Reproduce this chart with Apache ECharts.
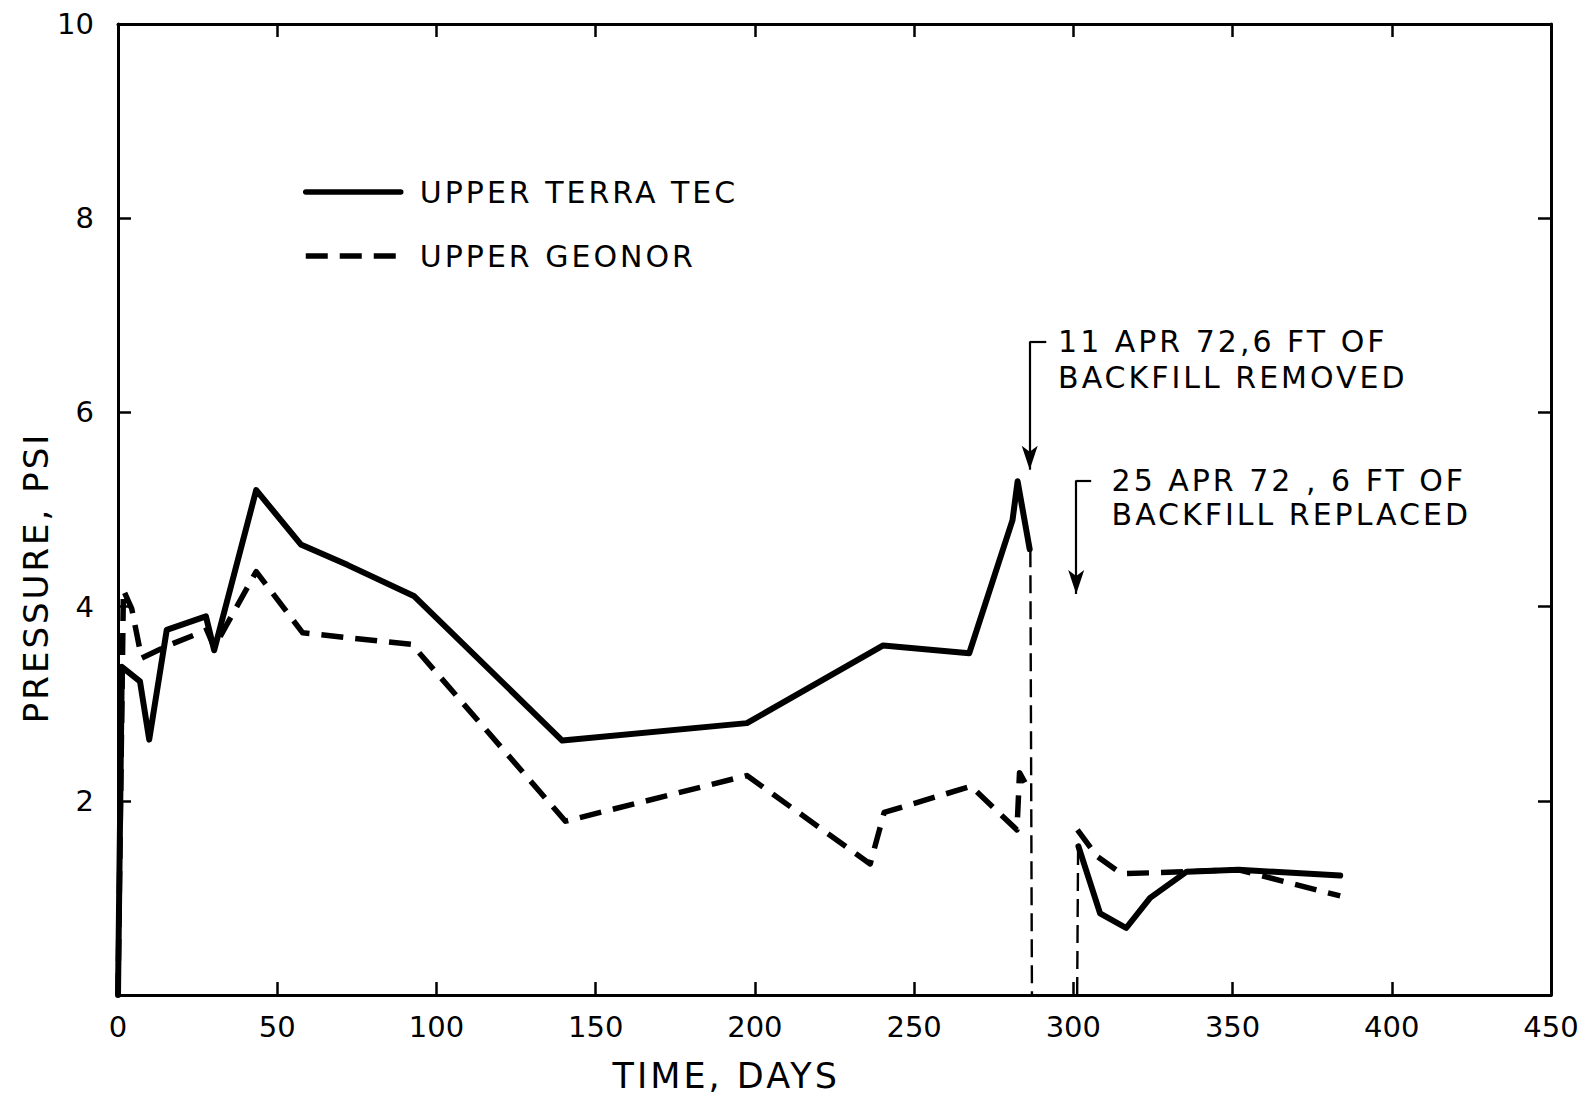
<!DOCTYPE html>
<html><head><meta charset="utf-8">
<script src="https://cdn.jsdelivr.net/npm/echarts@6/dist/echarts.min.js"></script>
<style>
html,body{margin:0;padding:0;background:#fff}
#c{width:1585px;height:1100px}
#c text{letter-spacing:3px}
#c text[style*="29px"]{letter-spacing:0}
</style>
</head><body><div id="c"></div>
<script>
// Upper Terra Tec (solid), before and after backfill gap
const terraDays1 = [0, 1.2, 6.9, 9.8, 15.3, 27.6, 30.2, 43.4, 57.4, 72, 92.9, 139.5, 197.5, 240.3, 267.3, 280.9, 282.5, 286.3];
const terraPsi1  = [0, 3.38, 3.23, 2.63, 3.76, 3.90, 3.55, 5.20, 4.64, 4.43, 4.11, 2.62, 2.80, 3.60, 3.52, 4.89, 5.29, 4.59];
const terraDays2 = [301.6, 308.4, 316.6, 324.1, 335.6, 351.9, 383.8];
const terraPsi2  = [1.53, 0.84, 0.69, 1.00, 1.27, 1.29, 1.23];
// Upper Geonor (dashed)
const geoDays1 = [0, 1.7, 4.3, 7.4, 15.8, 27.9, 30.2, 43.4, 58, 92.3, 140.5, 197.5, 236.2, 240.6, 267.9, 282.3, 283.1, 286.3];
const geoPsi1  = [0, 4.17, 3.98, 3.47, 3.60, 3.76, 3.58, 4.36, 3.73, 3.61, 1.79, 2.26, 1.35, 1.88, 2.15, 1.70, 2.29, 2.10];
const geoDays2 = [301.3, 307.4, 314.2, 316.3, 335.6, 351.9, 383.8];
const geoPsi2  = [1.70, 1.43, 1.27, 1.25, 1.27, 1.29, 1.02];
// thin dashed connectors (drop to zero / rise from zero)
const dropDays = [286.5, 287.0];
const dropPsi  = [4.59, 0];
const riseDays = [301.2, 301.5];
const risePsi  = [0, 1.53];
// axis ticks
const xTicks = [0, 50, 100, 150, 200, 250, 300, 350, 400, 450];
const yTicks = [2, 4, 6, 8, 10];
// annotations
const notes = [
  {day: 286.3, top: 6.73, tip: 5.41, tickEnd: 291.5, textDay: 295.2, lines: ['11 APR 72,6 FT OF', 'BACKFILL REMOVED'], ys: [6.73, 6.36]},
  {day: 300.9, top: 5.30, tip: 4.13, tickEnd: 305.6, textDay: 312, lines: ['25 APR 72 , 6 FT OF', 'BACKFILL REPLACED'], ys: [5.30, 4.95]}
];

const zip = (a, b) => a.map((v, i) => [v, b[i]]);
const FONT = 'DejaVu Sans';
const chart = echarts.init(document.getElementById('c'), null, {renderer: 'svg'});

const solidStyle = {color: '#000', width: 6, type: 'solid', cap: 'round', join: 'round'};
const dashStyle = {color: '#000', width: 5.5, type: [22, 12], cap: 'butt', join: 'round'};
const thinDash = {color: '#000', width: 2.4, type: [18, 8]};

const markLines = [];
notes.forEach(n => {
  markLines.push([{coord: [n.day, n.top], symbol: 'none'}, {coord: [n.day, n.tip], symbol: 'arrow', symbolSize: [12, 24]}]);
  markLines.push([{coord: [n.day, n.top], symbol: 'none'}, {coord: [n.tickEnd, n.top], symbol: 'none'}]);
});

const tickStyle = {show: true, inside: true, length: 13, lineStyle: {color: '#000', width: 2.5}};
const lineAx = {show: true, onZero: false, lineStyle: {color: '#000', width: 3}};

const option = {
  animation: false,
  backgroundColor: '#fff',
  grid: {left: 118, right: 34, top: 24, bottom: 105, containLabel: false},
  legend: {
    data: ['UPPER TERRA TEC', 'UPPER GEONOR'],
    orient: 'vertical', left: 303, top: 177, padding: 0,
    itemWidth: 95, itemHeight: 30, itemGap: 34,
    itemStyle: {opacity: 0},
    lineStyle: {color: '#000', width: 5.5},
    textStyle: {fontFamily: FONT, fontSize: 30, color: '#000', padding: [0, 0, 0, 14]}
  },
  xAxis: [{
    type: 'value', min: 0, max: 450, interval: 50,
    axisLine: lineAx, axisTick: tickStyle,
    axisLabel: {fontFamily: FONT, fontSize: 29, color: '#000', margin: 17},
    splitLine: {show: false}
  }, {
    type: 'value', min: 0, max: 450, interval: 50, position: 'top',
    axisLine: lineAx, axisTick: tickStyle,
    axisLabel: {show: false}, splitLine: {show: false}
  }],
  yAxis: [{
    type: 'value', min: 0, max: 10, interval: 2,
    axisLine: lineAx, axisTick: tickStyle,
    axisLabel: {fontFamily: FONT, fontSize: 29, color: '#000', margin: 24, formatter: v => (yTicks.indexOf(v) >= 0 ? String(v) : '')},
    splitLine: {show: false}
  }, {
    type: 'value', min: 0, max: 10, interval: 2, position: 'right',
    axisLine: lineAx, axisTick: tickStyle,
    axisLabel: {show: false}, splitLine: {show: false}
  }],
  series: [
    {name: 'UPPER TERRA TEC', type: 'line', data: zip(terraDays1, terraPsi1), showSymbol: false, symbol: 'none', lineStyle: solidStyle, itemStyle: {color: '#000'}},
    {name: 'UPPER TERRA TEC', type: 'line', data: zip(terraDays2, terraPsi2), showSymbol: false, symbol: 'none', lineStyle: solidStyle, itemStyle: {color: '#000'}},
    {name: 'UPPER GEONOR', type: 'line', data: zip(geoDays1, geoPsi1), showSymbol: false, symbol: 'none', lineStyle: dashStyle, itemStyle: {color: '#000'}},
    {name: 'UPPER GEONOR', type: 'line', data: zip(geoDays2, geoPsi2), showSymbol: false, symbol: 'none', lineStyle: dashStyle, itemStyle: {color: '#000'}},
    {name: 'drop', type: 'line', data: zip(dropDays, dropPsi), showSymbol: false, symbol: 'none', lineStyle: thinDash, itemStyle: {color: '#000'}},
    {name: 'rise', type: 'line', data: zip(riseDays, risePsi), showSymbol: false, symbol: 'none', lineStyle: thinDash, itemStyle: {color: '#000'},
     markLine: {silent: true, animation: false, label: {show: false}, lineStyle: {color: '#000', width: 2.2, type: 'solid'}, data: markLines}},
    {name: 'frame', type: 'line', xAxisIndex: 1, yAxisIndex: 1, data: [], showSymbol: false, symbol: 'none'}
  ]
};
chart.setOption(option);

const graphics = [];
notes.forEach(n => {
  n.lines.forEach((t, i) => {
    const p = chart.convertToPixel({xAxisIndex: 0, yAxisIndex: 0}, [n.textDay, n.ys[i]]);
    graphics.push({type: 'text', x: p[0], y: p[1], style: {text: t, font: '30px "' + FONT + '"', fill: '#000', textAlign: 'left', textVerticalAlign: 'middle'}});
  });
});
const xn = chart.convertToPixel({xAxisIndex: 0, yAxisIndex: 0}, [191, 0]);
graphics.push({type: 'text', x: xn[0], y: xn[1] + 81, style: {text: 'TIME, DAYS', font: '35px "' + FONT + '"', fill: '#000', textAlign: 'center', textVerticalAlign: 'middle'}});
const yn = chart.convertToPixel({xAxisIndex: 0, yAxisIndex: 0}, [0, 4.3]);
graphics.push({type: 'text', x: yn[0] - 82, y: yn[1], rotation: Math.PI / 2, style: {text: 'PRESSURE, PSI', font: '34px "' + FONT + '"', fill: '#000', textAlign: 'center', textVerticalAlign: 'middle'}});
chart.setOption({graphic: graphics});
</script></body></html>
